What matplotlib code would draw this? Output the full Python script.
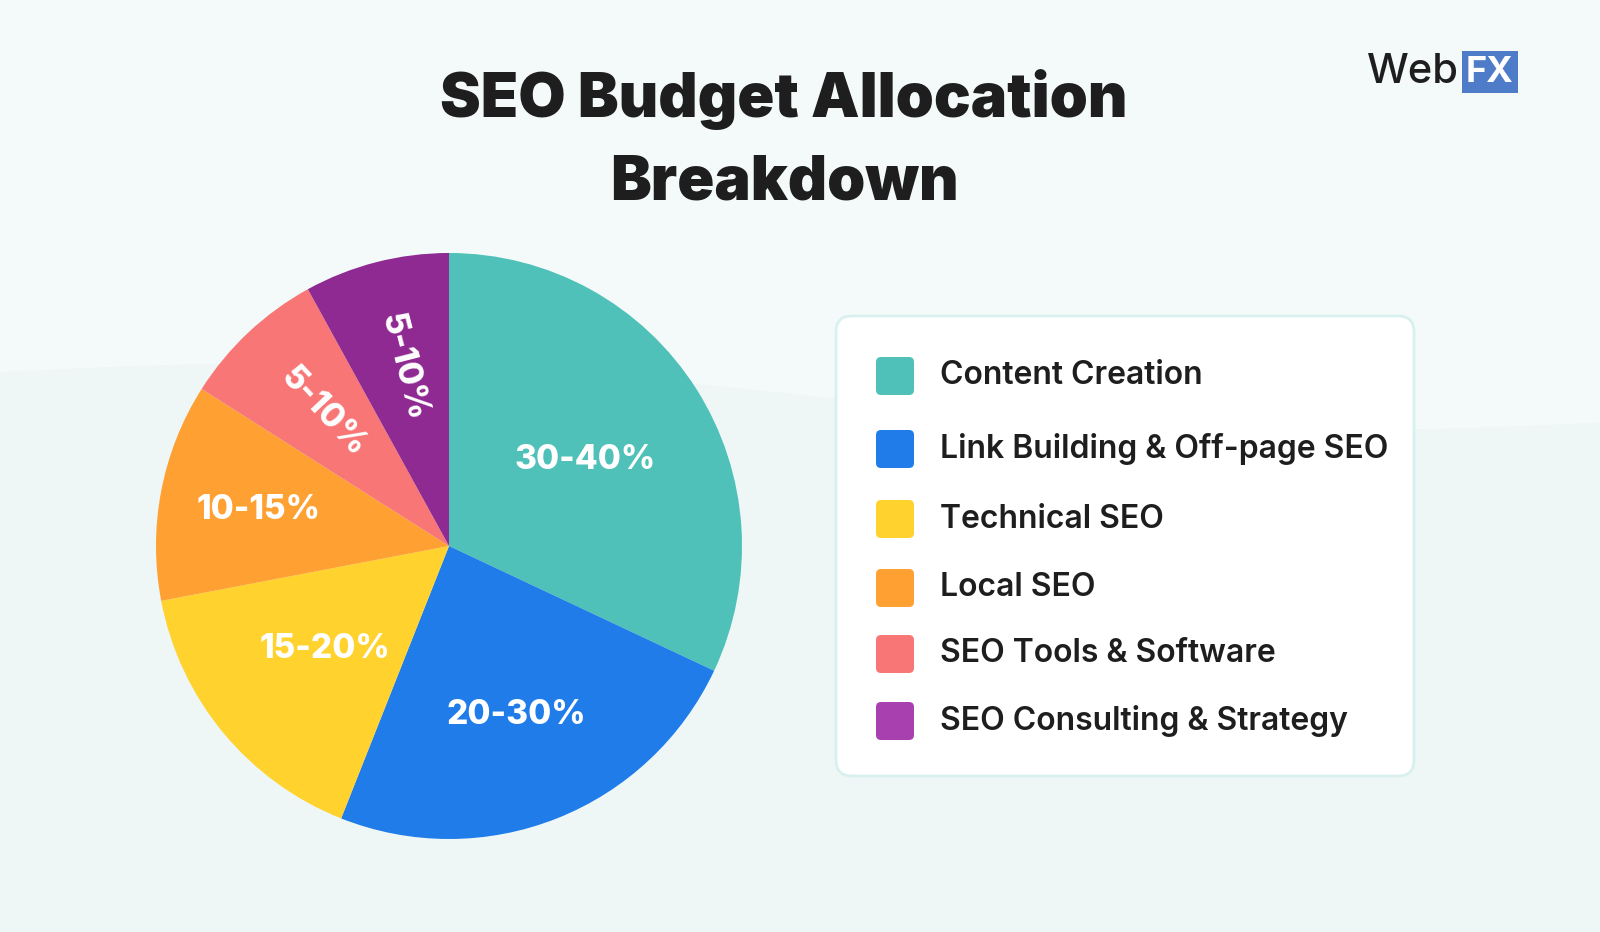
import matplotlib
matplotlib.use("Agg")
import matplotlib.pyplot as plt
from matplotlib.patches import FancyBboxPatch
import numpy as np

categories = ["Content Creation", "Link Building & Off-page SEO", "Technical SEO",
              "Local SEO", "SEO Tools & Software", "SEO Consulting & Strategy"]
values = [32, 24, 16, 12, 8, 8]
range_labels = ["30-40%", "20-30%", "15-20%", "10-15%", "5-10%", "5-10%"]
slice_colors = ["#4FC1B9", "#1F7CE8", "#FFD22E", "#FFA033", "#F87676", "#8E2A91"]
legend_colors = ["#4FC1B9", "#1F7CE8", "#FFD22E", "#FFA033", "#F87676", "#A940B0"]

W, H = 1600, 932
fig = plt.figure(figsize=(16, 9.32), dpi=100)
fig.patch.set_facecolor("#F4FAF9")
FONT = "Inter"

bg = fig.add_axes([0, 0, 1, 1], zorder=-5)
bg.set_xlim(0, W); bg.set_ylim(0, H); bg.axis("off")
xs = np.linspace(0, W, 200)
ys = 560 + 20*np.sin(xs/260) - 0.03*xs
bg.fill_between(xs, 0, ys, color="#EEF7F6", lw=0)

fig.text(784/W, 1-100/H, "SEO Budget Allocation", ha="center", va="center",
         fontsize=44, fontweight="black", family=FONT, color="#1E1E1E")
fig.text(784/W, 1-183/H, "Breakdown", ha="center", va="center",
         fontsize=44, fontweight="black", family=FONT, color="#1E1E1E")

fig.text(1367/W, 1-72/H, "Web", ha="left", va="center", fontsize=30, family=FONT,
         fontweight="medium", color="#1E1E1E")
fig.text(1490/W, 1-72/H, "FX", ha="center", va="center", fontsize=26, fontweight="bold",
         family=FONT, color="white",
         bbox=dict(boxstyle="square,pad=0.12", fc="#4F7CC9", ec="none"))

cx, cy, r = 449, 932-546, 293
ax = fig.add_axes([(cx-r)/W, (cy-r)/H, 2*r/W, 2*r/H])
wedges, _ = ax.pie(values, colors=slice_colors, startangle=90, counterclock=False,
                   wedgeprops=dict(linewidth=0))
ax.set_xlim(-1, 1); ax.set_ylim(-1, 1); ax.set_aspect("equal")
rfrac = [0.55, 0.62, 0.55, 0.66, 0.63, 0.63]
for i, w in enumerate(wedges):
    mid = (w.theta1 + w.theta2) / 2
    x = rfrac[i]*np.cos(np.radians(mid)); y = rfrac[i]*np.sin(np.radians(mid))
    rot = mid - 180 if values[i] < 10 else 0
    ax.text(x, y, range_labels[i], ha="center", va="center", rotation=rot,
            rotation_mode="anchor", fontsize=24, fontweight="heavy", family=FONT, color="white")

lg = fig.add_axes([0, 0, 1, 1], zorder=2)
lg.set_xlim(0, W); lg.set_ylim(H, 0); lg.axis("off")
lg.add_patch(FancyBboxPatch((836, 316), 578, 460, boxstyle="round,pad=0,rounding_size=16",
                            fc="white", ec="#D8F0EE", lw=2))
rows = [376, 449, 519, 588, 654, 721]
for c, col, yy in zip(categories, legend_colors, rows):
    lg.add_patch(FancyBboxPatch((876, yy-19), 38, 38, boxstyle="round,pad=0,rounding_size=5",
                                fc=col, ec="none"))
    lg.text(940, yy, c, ha="left", va="center", fontsize=23, fontweight="semibold",
            family=FONT, color="#1E1E1E")

fig.savefig("out.png", dpi=100, facecolor=fig.get_facecolor())
